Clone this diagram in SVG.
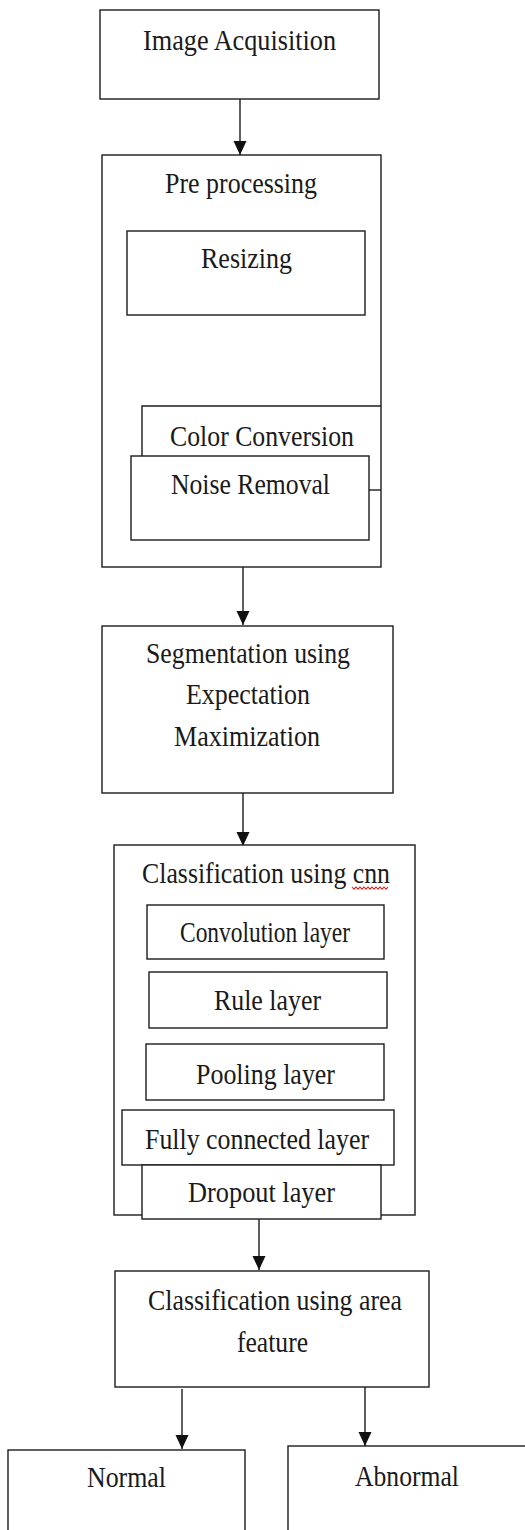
<svg xmlns="http://www.w3.org/2000/svg" width="525" height="1530" viewBox="0 0 525 1530">
  <style>
    .box { fill: #ffffff; stroke: #1c1c1c; stroke-width: 1.4; }
    .edge { fill: none; stroke: #1c1c1c; stroke-width: 1.4; }
    .conn { fill: none; stroke: #1c1c1c; stroke-width: 1.4; marker-end: url(#arrow); }
    .lbl { font-family: "Liberation Serif", "Times New Roman", serif; font-size: 29.5px; fill: #1a1a1a; }
  </style>
  <defs>
    <!-- filled triangular arrowhead, tip at the line end -->
    <marker id="arrow" markerUnits="userSpaceOnUse" markerWidth="14" markerHeight="14" viewBox="0 0 14 14" refX="14" refY="7" orient="auto">
      <path d="M0,0.5 L14,7 L0,13.5 Z" fill="#111111"/>
    </marker>
  </defs>
  <rect width="525" height="1530" fill="#ffffff"/>

  <g id="connectors">
    <line class="conn" x1="240" y1="99" x2="240" y2="155"/>
    <line class="conn" x1="243" y1="567" x2="243" y2="625"/>
    <line class="conn" x1="243" y1="793" x2="243" y2="846"/>
    <line class="conn" x1="259" y1="1219" x2="259" y2="1270"/>
    <line class="conn" x1="182" y1="1389" x2="182" y2="1449"/>
    <line class="conn" x1="365" y1="1387" x2="365" y2="1446"/>
  </g>

  <g id="image-acquisition">
    <rect class="box" x="100" y="10" width="279" height="89"/>
    <text class="lbl" x="143" y="50" textLength="193" lengthAdjust="spacingAndGlyphs">Image Acquisition</text>
  </g>

  <g id="pre-processing">
    <rect class="box" x="102" y="155" width="279" height="412"/>
    <text class="lbl" x="165" y="193" textLength="152" lengthAdjust="spacingAndGlyphs">Pre processing</text>
  </g>

  <g id="resizing">
    <rect class="box" x="127" y="231" width="238" height="84"/>
    <text class="lbl" x="201" y="268" textLength="91" lengthAdjust="spacingAndGlyphs">Resizing</text>
  </g>

  <g id="color-conversion">
    <path class="edge" d="M142,456 L142,406 L381,406"/>
    <text class="lbl" x="170" y="446" textLength="184" lengthAdjust="spacingAndGlyphs">Color Conversion</text>
  </g>

  <g id="noise-removal">
    <rect class="box" x="131" y="456" width="238" height="84"/>
    <line class="edge" x1="369" y1="490" x2="381" y2="490"/>
    <text class="lbl" x="171" y="494" textLength="159" lengthAdjust="spacingAndGlyphs">Noise Removal</text>
  </g>

  <g id="segmentation">
    <rect class="box" x="102" y="626" width="291" height="167"/>
    <text class="lbl" x="146" y="663" textLength="204" lengthAdjust="spacingAndGlyphs">Segmentation using</text>
    <text class="lbl" x="186" y="704" textLength="124" lengthAdjust="spacingAndGlyphs">Expectation</text>
    <text class="lbl" x="174" y="746" textLength="146" lengthAdjust="spacingAndGlyphs">Maximization</text>
  </g>

  <g id="cnn-classification">
    <rect class="box" x="114" y="845" width="301" height="370"/>
    <text class="lbl" x="142" y="883" textLength="248" lengthAdjust="spacingAndGlyphs">Classification using cnn</text>
    <!-- spell-check squiggle under "cnn" -->
    <path d="M352,887 l2,2.2 l2,-2.2 l2,2.2 l2,-2.2 l2,2.2 l2,-2.2 l2,2.2 l2,-2.2 l2,2.2 l2,-2.2 l2,2.2 l2,-2.2 l2,2.2 l2,-2.2 l2,2.2 l2,-2.2 l2,2.2 l2,-2.2" fill="none" stroke="#e02020" stroke-width="1.1"/>
  </g>

  <g id="convolution-layer">
    <rect class="box" x="147" y="905" width="237" height="54"/>
    <text class="lbl" x="180" y="942" textLength="170" lengthAdjust="spacingAndGlyphs">Convolution layer</text>
  </g>

  <g id="rule-layer">
    <rect class="box" x="149" y="972" width="238" height="56"/>
    <text class="lbl" x="214" y="1010" textLength="107" lengthAdjust="spacingAndGlyphs">Rule layer</text>
  </g>

  <g id="pooling-layer">
    <rect class="box" x="146" y="1044" width="238" height="56"/>
    <text class="lbl" x="196" y="1084" textLength="139" lengthAdjust="spacingAndGlyphs">Pooling layer</text>
  </g>

  <g id="fully-connected-layer">
    <rect class="box" x="122" y="1110" width="272" height="55"/>
    <text class="lbl" x="145" y="1149" textLength="224" lengthAdjust="spacingAndGlyphs">Fully connected layer</text>
  </g>

  <g id="dropout-layer">
    <rect class="box" x="142" y="1165" width="239" height="54"/>
    <text class="lbl" x="188" y="1202" textLength="147" lengthAdjust="spacingAndGlyphs">Dropout layer</text>
  </g>

  <g id="area-classification">
    <rect class="box" x="115" y="1271" width="314" height="116"/>
    <text class="lbl" x="148" y="1310" textLength="254" lengthAdjust="spacingAndGlyphs">Classification using area</text>
    <text class="lbl" x="237" y="1352" textLength="71" lengthAdjust="spacingAndGlyphs">feature</text>
  </g>

  <g id="normal">
    <rect class="box" x="8" y="1450" width="237" height="90"/>
    <text class="lbl" x="87" y="1487" textLength="79" lengthAdjust="spacingAndGlyphs">Normal</text>
  </g>

  <g id="abnormal">
    <rect class="box" x="288" y="1446" width="250" height="94"/>
    <text class="lbl" x="355" y="1486" textLength="104" lengthAdjust="spacingAndGlyphs">Abnormal</text>
  </g>
</svg>
